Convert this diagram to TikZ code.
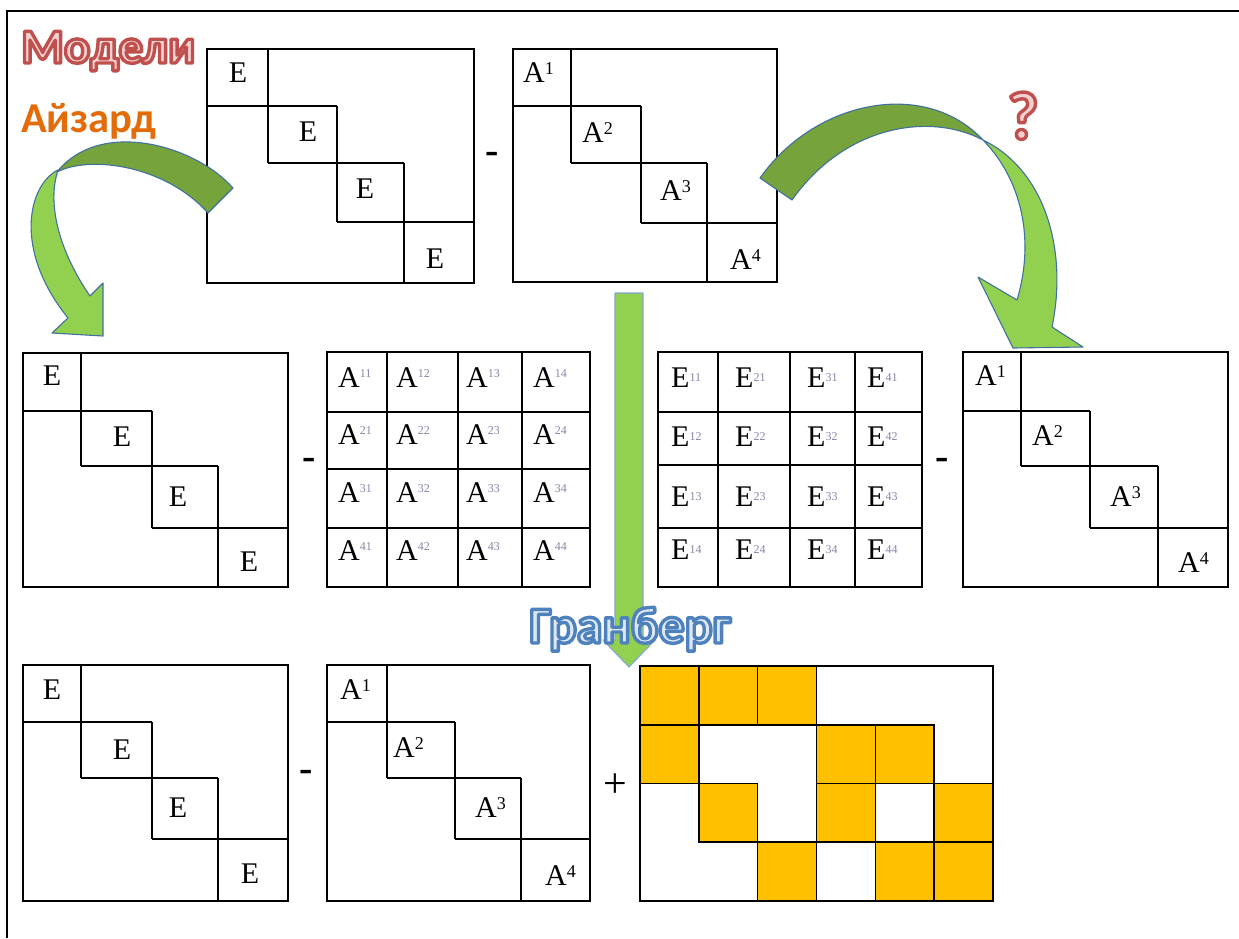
\documentclass[tikz,border=0pt]{standalone}
\usepackage{fontspec}
\setmainfont{Liberation Serif}
\newfontfamily\wafont{Carlito}
\definecolor{dkgreen}{HTML}{76A33B}
\definecolor{ltgreen}{HTML}{92D050}
\definecolor{arrline}{HTML}{41719C}
\definecolor{gold}{HTML}{FFC000}
\definecolor{redout}{HTML}{C0504D}
\definecolor{pinkfill}{HTML}{F4D0D0}
\definecolor{blueout}{HTML}{4F81BD}
\definecolor{bluefill}{HTML}{DCE7F4}
\definecolor{orangetxt}{HTML}{E36C09}
\definecolor{idxcol}{HTML}{8A84A8}
\newcommand\matfont{\fontsize{30}{30}\selectfont}
\newcommand\Asup[1]{A\raisebox{8pt}{\fontsize{18}{18}\selectfont #1}}
\newcommand\Agr[1]{A\raisebox{10pt}{\color{idxcol}\fontsize{12}{12}\selectfont #1}}
\newcommand\Egr[1]{E\raisebox{6pt}{\color{idxcol}\fontsize{12}{12}\selectfont #1}}
% outlined text: name, x, y, size, text, outline rgb, fill colour
\newcommand\outlined[7]{%
  \node[anchor=base west,inner sep=0pt,text=#7,font=\wafont\bfseries\fontsize{#4}{#4}\selectfont] (#1) at (#2,#3)
    {\special{pdf:literal direct 2 Tr 3.4 w 1 j #6 RG}#5\special{pdf:literal direct 0 Tr}};}
\begin{document}
\begin{tikzpicture}[x=1pt,y=-1pt,
  mat/.style={line width=1.6pt,black},
  lbl/.style={inner sep=0pt,font=\matfont},
  lblw/.style={inner sep=0pt,font=\matfont,anchor=west},
  darkarrow/.style={fill=dkgreen,draw=arrline,line width=1.1pt,line join=round},
  lightarrow/.style={fill=ltgreen,draw=arrline,line width=1.1pt,line join=round},
  cell/.style={fill=gold,draw=black,line width=1.6pt},
  opsign/.style={inner sep=0pt,font=\bfseries\fontsize{40}{40}\selectfont}]
\useasboundingbox (0,0) rectangle (1239,938);
\fill[white] (0,0) rectangle (1239,938);
\draw[line width=1.4pt] (7,938) -- (7,11) -- (1239,11);

% staircase matrices
\foreach \L/\T/\R/\B/\ca/\cb/\cc/\ra/\rb/\rc in {
  207/49/474/283/268/337/404/106/163/222,
  513/49/777/282/571/641/707/106/163/223,
  23/353/288/587/81/152/218/411/466/528,
  963/352/1228/587/1021/1090/1158/411/466/528,
  23/665/288/901/81/152/218/722/778/839,
  327/665/590/901/387/455/521/722/778/839}{
  \draw[mat] (\L,\T) rectangle (\R,\B);
  \draw[mat] (\ca,\T) -- (\ca,\rb);
  \draw[mat] (\L,\ra) -- (\cb,\ra);
  \draw[mat] (\cb,\ra) -- (\cb,\rc);
  \draw[mat] (\ca,\rb) -- (\cc,\rb);
  \draw[mat] (\cc,\rb) -- (\cc,\B);
  \draw[mat] (\cb,\rc) -- (\R,\rc);
}

% 4x4 grids
\draw[mat] (327,352) rectangle (590,587);
\foreach \x in {387,458,522}{\draw[mat] (\x,352) -- (\x,587);}
\foreach \y in {412,469,528}{\draw[mat] (327,\y) -- (590,\y);}
\draw[mat] (658,352) rectangle (922,587);
\foreach \x in {718,790,855}{\draw[mat] (\x,352) -- (\x,587);}
\foreach \y in {412,465,528}{\draw[mat] (658,\y) -- (922,\y);}

% top E matrix labels
\node[lbl] (tE1) at (238,73) {E};
\node[lbl] (tE2) at (308,132) {E};
\node[lbl] (tE3) at (365,189) {E};
\node[lbl] (tE4) at (435,259) {E};
% top A matrix labels
\node[lblw] (tA1) at (523,73) {\Asup{1}};
\node[lblw] (tA2) at (582,133) {\Asup{2}};
\node[lblw] (tA3) at (660,191) {\Asup{3}};
\node[lblw] (tA4) at (730,260) {\Asup{4}};
% middle left E
\node[lbl] (mE1) at (52,376) {E};
\node[lbl] (mE2) at (122,437) {E};
\node[lbl] (mE3) at (178,497) {E};
\node[lbl] (mE4) at (249,562) {E};
% middle right A
\node[lblw] (mA1) at (975,376) {\Asup{1}};
\node[lblw] (mA2) at (1032,436) {\Asup{2}};
\node[lblw] (mA3) at (1110,497) {\Asup{3}};
\node[lblw] (mA4) at (1178,563) {\Asup{4}};
% bottom left E
\node[lbl] (bE1) at (52,690) {E};
\node[lbl] (bE2) at (122,750) {E};
\node[lbl] (bE3) at (178,808) {E};
\node[lbl] (bE4) at (250,874) {E};
% bottom A
\node[lblw] (bA1) at (340,690) {\Asup{1}};
\node[lblw] (bA2) at (393,748) {\Asup{2}};
\node[lblw] (bA3) at (475,808) {\Asup{3}};
\node[lblw] (bA4) at (545,876) {\Asup{4}};

% A grid labels
\foreach \r/\y in {1/378,2/435,3/493,4/551}{
  \foreach \c/\x in {1/338,2/396,3/466,4/533}{
    \node[lblw] (gA\r\c) at (\x,\y) {\Agr{\r\c}};}}
% E grid labels (transposed indices)
\foreach \r/\y in {1/378,2/437,3/497,4/550}{
  \foreach \c/\x in {1/671,2/735,3/807,4/867}{
    \node[lblw] (gE\r\c) at (\x,\y) {\Egr{\c\r}};}}

% operators
\node[opsign] (op1) at (492,158) {-};
\node[opsign] (op2) at (309,464) {-};
\node[opsign] (op3) at (942,464) {-};
\node[opsign] (op4) at (306,776) {-};
\node[inner sep=0pt,font=\fontsize{42}{42}\selectfont] (op5) at (615,786) {+};

% yellow grid
\foreach \c/\r in {0/0,1/0,2/0,0/1,3/1,4/1,1/2,3/2,5/2,2/3,4/3,5/3}{
  \draw[cell] ({640+58.83*\c},{666+58.75*\r}) rectangle ++(58.83,58.75);}
\draw[mat] (640,666) rectangle (993,901);

% curved arrows
\draw[darkarrow] (233,188) .. controls (195,145) and (100,118) .. (57,172)
   .. controls (90,155) and (165,165) .. (208,213) -- cycle;
\draw[lightarrow] (58,170) .. controls (28,185) and (13,250) .. (68,318)
   -- (52,333) -- (103,336) -- (103,283) -- (90,296)
   .. controls (65,260) and (45,210) .. (58,170) -- cycle;
\draw[darkarrow] (760,178) .. controls (815,100) and (925,78) .. (983,140)
   .. controls (930,112) and (845,125) .. (792,200) -- cycle;
\draw[lightarrow] (983,140) .. controls (1045,170) and (1068,250) .. (1052,327)
   -- (1083,347) -- (1013,348) -- (978,277) -- (1017,300)
   .. controls (1035,240) and (1022,180) .. (983,140) -- cycle;
% straight down arrow
\draw[fill=ltgreen,draw=blueout!70,line width=1.1pt,line join=round]
  (615,293) -- (643,293) -- (643,640) -- (655,640) -- (629,667) -- (603,640) -- (615,640) -- cycle;

% titles
\outlined{modeli}{21}{63}{49}{Модели}{0.753 0.314 0.302}{pinkfill}
\node[anchor=base west,inner sep=0pt,text=orangetxt,font=\wafont\bfseries\fontsize{42.5}{42.5}\selectfont] (aizard) at (21,132) {Айзард};
\outlined{granberg}{529}{643}{52}{Гранберг}{0.310 0.506 0.741}{bluefill}
\outlined{qmark}{1007}{139}{68}{?}{0.753 0.314 0.302}{pinkfill}
\end{tikzpicture}
\end{document}
